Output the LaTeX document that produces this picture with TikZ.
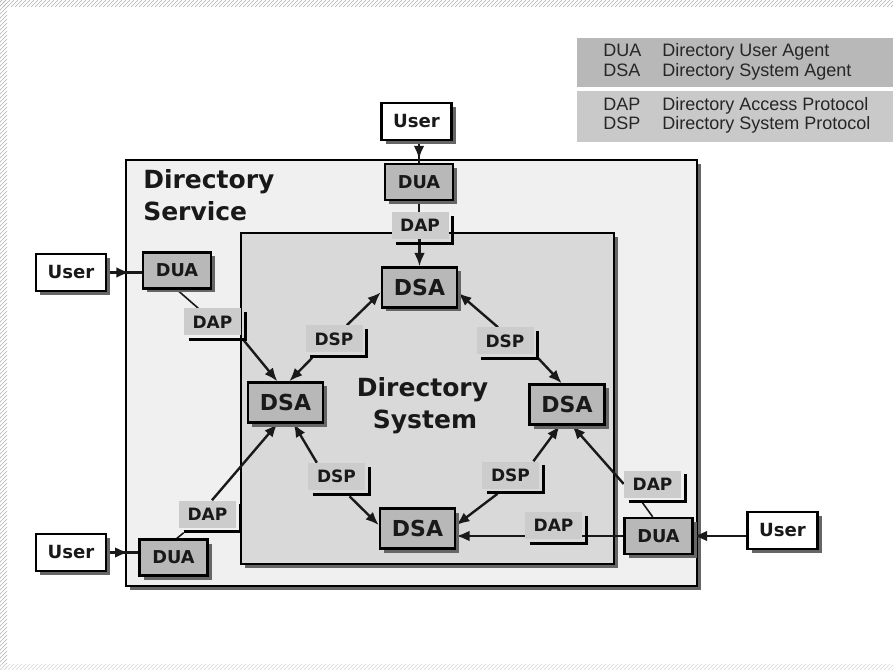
\documentclass[tikz,border=0pt]{standalone}
\usepackage{fontspec}
\setmainfont{Liberation Sans}
\newfontfamily\dvs{DejaVu Sans}
\usetikzlibrary{arrows.meta,shadows,calc,decorations.markings,patterns}
\def\pu{0.75pt}
\pgfdeclarelayer{bg}
\pgfdeclarelayer{conn}
\pgfsetlayers{bg,conn,main}
\begin{document}
\begin{tikzpicture}[x=0.75pt,y=-0.75pt,
  shad/.style={drop shadow={shadow xshift=3pt,shadow yshift=-3pt,fill=black!60,opacity=1}},
  box/.style={draw=black, line width=1.8pt, inner sep=0pt, text=black!90, shad},
  dsa/.style={box, fill=black!28, minimum width=75*\pu, minimum height=40*\pu,
    font=\dvs\bfseries\fontsize{16.5pt}{18pt}\selectfont},
  dua/.style={box, fill=black!28, minimum width=68*\pu, minimum height=36*\pu,
    font=\dvs\bfseries\fontsize{13.3pt}{15pt}\selectfont},
  usr/.style={box, fill=white, minimum width=70*\pu, minimum height=37*\pu,
    font=\dvs\bfseries\fontsize{13.6pt}{15pt}\selectfont},
  lbl/.style={fill=black!20, inner sep=0pt, minimum width=57*\pu, minimum height=27*\pu,
    text=black!90, font=\dvs\bfseries\fontsize{12.75pt}{14pt}\selectfont},
  lsh/.style={line width=2.2pt, draw=black},
  conn/.style={line width=1.8pt, draw=black!90},
  tconn/.style={line width=1.2pt, draw=black!90},
  arr/.style={-{Latex[length=10pt,width=8pt]}},
  mkarr/.style={postaction={decorate}, decoration={markings,
    mark=at position #1 with {\arrow{Latex[length=10pt,width=8pt]}}}},
  title/.style={font=\dvs\bfseries\fontsize{18.75pt}{22pt}\selectfont, text=black!90, inner sep=0pt},
  legt/.style={font=\fontsize{13.5pt}{15pt}\selectfont, text=black!85, inner sep=0pt, anchor=base west}
]
\useasboundingbox (0,0) rectangle (893,670);

\begin{pgfonlayer}{bg}
  \fill[white] (0,0) rectangle (893,670);
  \fill[pattern=north east lines, pattern color=black!30] (0,0) rectangle (893,7);
  \fill[pattern=north east lines, pattern color=black!30] (0,0) rectangle (7,670);
  \fill[pattern=north east lines, pattern color=black!15] (0,664) rectangle (893,670);
  % legend
  \node[fill=black!28, minimum width=316*\pu, minimum height=49*\pu, inner sep=0pt] (legA) at (735,62.5) {};
  \node[fill=black!21, minimum width=316*\pu, minimum height=51*\pu, inner sep=0pt] (legB) at (735,116.5) {};
  % containers
  \node[draw=black, line width=1.9pt, fill=black!6, shad, minimum width=571*\pu, minimum height=426*\pu, inner sep=0pt] (svc) at (411.5,373) {};
  \node[draw=black, line width=1.8pt, fill=black!15, shad, minimum width=373*\pu, minimum height=331*\pu, inner sep=0pt] (sys) at (427.5,398.5) {};
\end{pgfonlayer}

% legend text
\node[legt] (lg1) at (603,57) {DUA};
\node[legt] (lg1t) at (662,57) {Directory User Agent};
\node[legt] (lg2) at (603,77) {DSA};
\node[legt] (lg2t) at (662,77) {Directory System Agent};
\node[legt] (lg3) at (603,111) {DAP};
\node[legt] (lg3t) at (662,111) {Directory Access Protocol};
\node[legt] (lg4) at (603,130) {DSP};
\node[legt] (lg4t) at (662,130) {Directory System Protocol};

% titles
\node[title, anchor=base west] (svcT1) at (143,189) {Directory};
\node[title, anchor=base west] (svcT2) at (143,221) {Service};
\node[title, anchor=base] (sysT1) at (422.5,397) {Directory};
\node[title, anchor=base] (sysT2) at (425,428) {System};

% DSA
\node[dsa] (dsaT) at (419.5,287.5) {DSA};
\node[dsa] (dsaL) at (285.5,402.5) {DSA};
\node[dsa] (dsaR) at (567,404.5) {DSA};
\node[dsa] (dsaB) at (417.5,528.5) {DSA};

% DUA
\node[dua] (duaT) at (419,182) {DUA};
\node[dua] (duaL) at (177,270.5) {DUA};
\node[dua] (duaBL) at (173.5,557.5) {DUA};
\node[dua] (duaR) at (658.5,536) {DUA};

% Users
\node[usr] (userT) at (416.5,121.5) {User};
\node[usr] (userL) at (71,272.5) {User};
\node[usr] (userBL) at (71,552.5) {User};
\node[usr] (userR) at (782.5,530.5) {User};

% labels
\node[lbl] (dapT) at (420,225.5) {DAP};
\node[lbl] (dapL) at (212.5,322) {DAP};
\node[lbl] (dspTL) at (334,339) {DSP};
\node[lbl] (dspTR) at (505,341) {DSP};
\node[lbl] (dspBL) at (336.5,476.5) {DSP};
\node[lbl] (dspBR) at (510.5,475) {DSP};
\node[lbl] (dapBL) at (207.5,514) {DAP};
\node[lbl] (dapB) at (553.5,525.5) {DAP};
\node[lbl] (dapR) at (652.5,484) {DAP};

\foreach \n in {dapT,dapL,dspTL,dspTR,dspBL,dspBR,dapBL,dapB,dapR}
  \draw[lsh] ($(\n.south west)+(5,4)$) -| ($(\n.north east)+(4,4)$);

% corner coordinates
\coordinate (dapLc) at ($(dapL.south east)+(2,4)$);
\coordinate (dspTLc) at ($(dspTL.south west)+(7,5)$);
\coordinate (dspTRc) at ($(dspTR.south east)+(4,3)$);
\coordinate (dspBLc) at ($(dspBL.south)+(13,6)$);
\coordinate (dspBRc) at ($(dspBR.south)+(-13,5)$);
\coordinate (dapBLc) at ($(dapBL.south west)+(5,5)$);
\coordinate (dapRc) at ($(dapR.south)+(-10,5)$);

\begin{pgfonlayer}{conn}
  % users to DUAs
  \draw[conn, mkarr=0.83] (duaT.north |- userT.south) -- (duaT.north);
  \draw[conn, mkarr=0.65] (userL.east) -- (userL.east -| duaL.west);
  \draw[conn, mkarr=0.68] (userBL.east) -- (userBL.east -| duaBL.west);
  \draw[conn, arr] (userR.west |- duaR.east) -- (duaR.east);
  % top
  \draw[conn] (duaT.south) -- (duaT.south |- dapT.north);
  \draw[conn, arr] (dsaT.north |- dapT.south) -- (dsaT.north);
  % left
  \draw[tconn] (duaL.south) -- (dapL.136);
  \draw[conn, arr] (dapLc) -- (dsaL.111);
  % DSP top-left
  \draw[conn, arr] (dspTL.47) -- (dsaT.187);
  \draw[conn, arr] (dspTLc) -- (dsaL.80);
  % DSP top-right
  \draw[conn, arr] (dspTR.117) -- (dsaT.352);
  \draw[conn, arr] (dspTRc) -- (dsaR.104);
  % DSP bottom-left
  \draw[conn, arr] (dspBL.145) -- (dsaL.291);
  \draw[conn, arr] (dspBLc) -- (dsaB.175);
  % DSP bottom-right
  \draw[conn, arr] (dspBR.31) -- (dsaR.251);
  \draw[conn, arr] (dspBRc) -- (dsaB.5);
  % bottom-left DAP
  \draw[tconn] (duaBL.80) -- (dapBLc);
  \draw[conn, arr] (dapBL.72) -- (dsaL.249);
  % right DUA
  \draw[conn, arr] (duaR.west) -- (duaR.west -| dsaB.east);
  \draw[tconn] (duaR.107) -- (dapRc);
  \draw[conn, arr] (dapR.west) -- (dsaR.284);
\end{pgfonlayer}
\end{tikzpicture}
\end{document}
